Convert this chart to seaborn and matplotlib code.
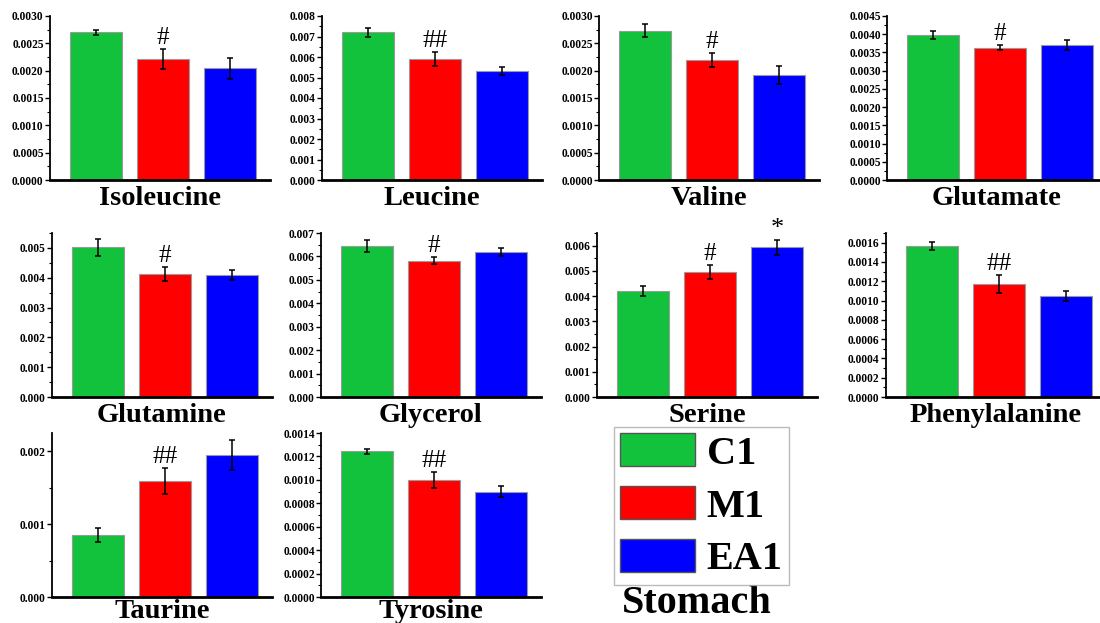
import numpy as np
import pandas as pd
import matplotlib
matplotlib.use('Agg')
import matplotlib.pyplot as plt
from matplotlib.patches import Patch
from matplotlib.ticker import MultipleLocator, AutoMinorLocator, FormatStrFormatter
import seaborn as sns

sns.set_style('ticks')
plt.rcParams['font.family'] = ['Liberation Serif', 'DejaVu Serif']
plt.rcParams['text.color'] = 'black'
plt.rcParams['axes.labelcolor'] = 'black'
plt.rcParams['xtick.color'] = 'black'
plt.rcParams['ytick.color'] = 'black'
plt.rcParams['axes.edgecolor'] = 'black'

# data
metabolites = ['Isoleucine', 'Leucine', 'Valine', 'Glutamate', 'Glutamine',
               'Glycerol', 'Serine', 'Phenylalanine', 'Taurine', 'Tyrosine']
groups = ['C1', 'M1', 'EA1']
mean_c1 = [0.00270, 0.00720, 0.00273, 0.00398, 0.00502, 0.00644, 0.00420, 0.001565, 0.00085, 0.001244]
mean_m1 = [0.00221, 0.00590, 0.00220, 0.00363, 0.00413, 0.00581, 0.00496, 0.00117, 0.00159, 0.000997]
mean_ea1 = [0.00204, 0.00532, 0.00192, 0.00371, 0.00409, 0.00617, 0.00593, 0.00105, 0.00195, 0.00090]
err_c1 = [0.00005, 0.00020, 0.00012, 0.00010, 0.00028, 0.00027, 0.00019, 0.00004, 0.00010, 0.00002]
err_m1 = [0.00018, 0.00035, 0.00013, 0.00007, 0.00023, 0.00015, 0.00028, 0.000095, 0.00018, 0.00007]
err_ea1 = [0.00019, 0.00018, 0.00016, 0.00014, 0.00018, 0.00017, 0.00031, 0.00005, 0.00021, 0.00005]
marks_m1 = ['#', '##', '#', '#', '#', '#', '#', '##', '##', '##']
marks_ea1 = ['', '', '', '', '', '', '*', '', '', '']
y_top = [0.003, 0.008, 0.003, 0.0045, 0.0055, 0.007, 0.0065, 0.0017, 0.00225, 0.0014]
y_step = [0.0005, 0.001, 0.0005, 0.0005, 0.001, 0.001, 0.001, 0.0002, 0.001, 0.0002]
y_fmt = ['%.4f', '%.3f', '%.4f', '%.4f', '%.3f', '%.3f', '%.3f', '%.4f', '%.3f', '%.4f']

colors = ['#12C23C', '#FF0000', '#0000FF']
pal = dict(zip(groups, colors))

W, H = 1100, 623
fig = plt.figure(figsize=(11, 6.23), dpi=100)

# panel boxes in pixels: left, top
lefts = [50, 322, 599, 887, 52, 321, 597, 886, 52, 321]
tops = [16, 16, 16, 16, 233, 233, 233, 233, 433, 433]
pw, ph = 220, 164

for i, name in enumerate(metabolites):
    ax = fig.add_axes([lefts[i] / W, 1 - (tops[i] + ph) / H, pw / W, ph / H])
    df = pd.DataFrame({'group': groups,
                       'value': [mean_c1[i], mean_m1[i], mean_ea1[i]]})
    sns.barplot(data=df, x='group', y='value', hue='group', palette=pal,
                saturation=1, width=0.78, edgecolor='#9a9a9a', linewidth=0.8,
                errorbar=None, legend=False, ax=ax)
    errs = [err_c1[i], err_m1[i], err_ea1[i]]
    ax.errorbar([0, 1, 2], df['value'], yerr=errs, fmt='none',
                ecolor='black', elinewidth=1.1, capsize=2.2, capthick=1.1)
    for k, mk in ((1, marks_m1[i]), (2, marks_ea1[i])):
        if mk:
            ax.annotate(mk, xy=(k, df['value'][k] + errs[k]), xytext=(0, 0),
                        textcoords='offset points', ha='center', va='bottom',
                        fontsize=18 if mk != '*' else 19)
    ax.set_xlim(-0.69, 2.6)
    ax.set_ylim(0, y_top[i])
    ax.yaxis.set_major_locator(MultipleLocator(y_step[i]))
    ax.yaxis.set_minor_locator(AutoMinorLocator(2))
    ax.yaxis.set_major_formatter(FormatStrFormatter(y_fmt[i]))
    ax.tick_params(axis='y', which='major', length=3.5, width=1, pad=1,
                   labelsize=8.3)
    ax.tick_params(axis='y', which='minor', length=2, width=0.8)
    for lab in ax.get_yticklabels():
        lab.set_fontweight('bold')
    ax.set_xticks([])
    ax.set_ylabel('')
    ax.set_xlabel(name, fontsize=20.5, fontweight='bold', va='baseline')
    ax.xaxis.set_label_coords(0.5, -0.15 if i < 8 else -0.13)
    sns.despine(ax=ax)
    ax.spines['left'].set_linewidth(1.3)
    ax.spines['bottom'].set_linewidth(2)

handles = [Patch(facecolor=c, edgecolor='#555555', label=g) for g, c in zip(groups, colors)]
fig.legend(handles=handles, loc='upper left', bbox_to_anchor=(614 / W, 1 - 427 / H),
           frameon=True, fancybox=False, edgecolor='#aaaaaa',
           prop={'family': 'Liberation Serif', 'weight': 'bold', 'size': 29},
           handlelength=1.85, handleheight=0.9, labelspacing=0.33, borderpad=0.15,
           handletextpad=0.3, borderaxespad=0)
fig.text(697 / W, 0.002, 'Stomach', ha='center', va='bottom',
         fontsize=29, fontweight='bold')

fig.savefig('out.png', dpi=100)
